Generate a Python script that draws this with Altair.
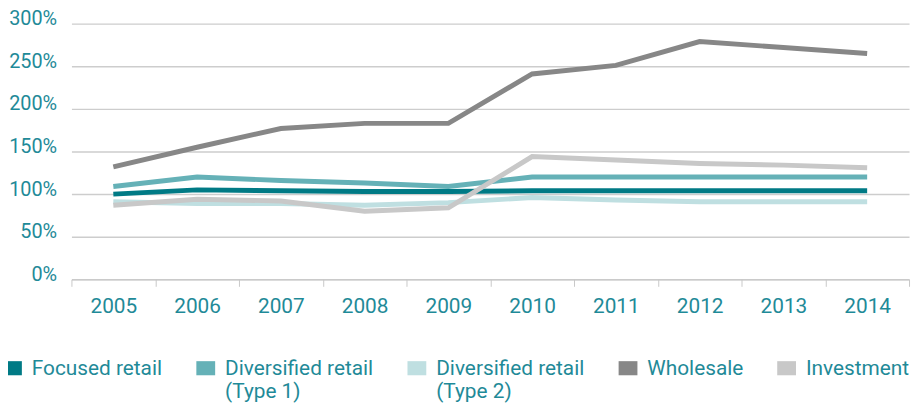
import altair as alt
import pandas as pd

years = ["2005", "2006", "2007", "2008", "2009", "2010", "2011", "2012", "2013", "2014"]
series_names = ["Focused retail| ", "Diversified retail|(Type 1)", "Diversified retail|(Type 2)", "Wholesale| ", "Investment| "]
focused = [100, 105, 104, 103, 103, 104, 104, 104, 104, 104]
diversified1 = [109, 120, 116, 113, 109, 120, 120, 120, 120, 120]
diversified2 = [91, 89, 89, 87, 90, 96, 93, 91, 91, 91]
wholesale = [132, 155, 177, 183, 183, 241, 251, 279, 272, 265]
investment = [87, 94, 92, 80, 84, 144, 140, 136, 134, 131]
colors = ["#007a85", "#65b1b7", "#bfdfe1", "#878787", "#c8c8c8"]
y_ticks = [0, 50, 100, 150, 200, 250, 300]

rows = []
for name, vals in zip(series_names, [focused, diversified1, diversified2, wholesale, investment]):
    for yr, v in zip(years, vals):
        rows.append({"year": yr, "series": name, "value": v})
df = pd.DataFrame(rows)
draw_order = {series_names[4]: 0, series_names[2]: 1, series_names[1]: 2,
              series_names[0]: 3, series_names[3]: 4}
df["order"] = df["series"].map(draw_order)

text_color = "#1f8a98"
font = "Roboto"

x_enc = alt.X("year:O", sort=years, title=None,
              scale=alt.Scale(paddingInner=0, paddingOuter=0),
              axis=alt.Axis(labelAngle=0, tickBand="extent", tickSize=7, tickColor="#c8c8c8",
                            domainColor="#c8c8c8", labelPadding=9, labelFontSize=21,
                            labelColor=text_color, labelFont=font, grid=False))
y_enc = alt.Y("value:Q", title=None,
              scale=alt.Scale(domain=[0, 300], nice=False),
              axis=alt.Axis(values=y_ticks, labelExpr="datum.value + '%'", domain=False, ticks=False,
                            gridColor="#cdcdcd", gridWidth=1.5, labelPadding=15, labelFontSize=20,
                            labelColor=text_color, labelFont=font, labelBaseline="alphabetic",
                            labelOffset=1))
color_enc = alt.Color("series:N", sort=series_names,
                      scale=alt.Scale(domain=series_names, range=colors),
                      legend=alt.Legend(title=None, orient="none", legendX=-70, legendY=344,
                                        direction="horizontal", columns=5, columnPadding=33,
                                        symbolType="M-1,-1.5L1,-1.5L1,0L-1,0Z",
                                        symbolSize=360, symbolStrokeWidth=0, symbolOpacity=1,
                                        labelFontSize=21, labelFont=font, labelColor=text_color,
                                        labelExpr="split(datum.label, '|')", labelLimit=300,
                                        labelBaseline="alphabetic", labelOffset=9, padding=0))

points = alt.Chart(df).mark_square(opacity=0, filled=True, size=10).encode(
    x=x_enc, y=y_enc, color=color_enc)

lines = alt.Chart(df).mark_line(strokeWidth=5, strokeCap="butt").encode(
    x=x_enc, y=y_enc, color=color_enc,
    order=alt.Order("order:Q"),
    detail="series:N",
)

chart = alt.layer(points, lines).properties(
    width=845, height=258,
    autosize=alt.AutoSizeParams(type="none"),
    padding={"left": 64, "top": 14, "right": 4, "bottom": 128},
).configure_view(stroke=None)

chart.save("out.html", embed_options={"renderer": "svg", "actions": False})
